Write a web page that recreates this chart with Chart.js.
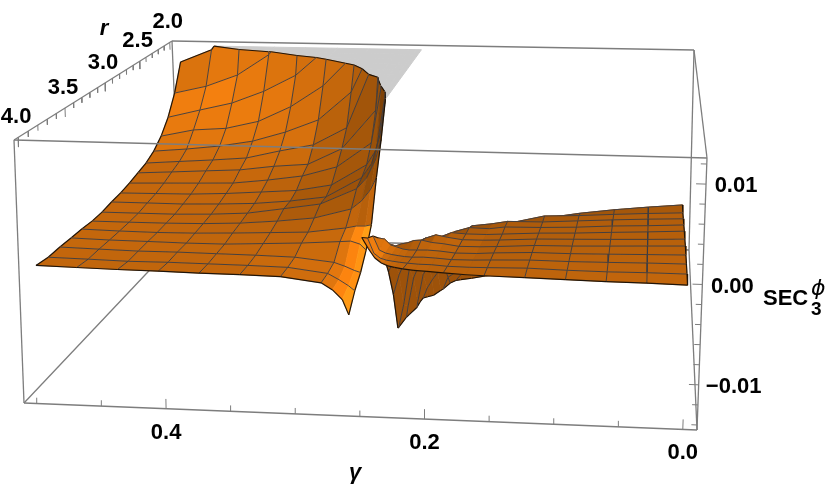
<!DOCTYPE html>
<html>
<head>
  <meta charset="UTF-8">
  <title>SEC surface</title>
  <script src="https://cdn.jsdelivr.net/npm/chart.js"></script>
  <style>
    html, body { margin: 0; background: #fff; }
    canvas { display: block; }
  </style>
</head>
<body>
  <canvas id="chart" width="830" height="495"></canvas>
  <script>
    const rValues = [2, 2.125, 2.25, 2.375, 2.5, 2.625, 2.75, 2.875, 3, 3.125, 3.25, 3.375, 3.5, 3.625, 3.75, 3.875, 4];
    const gammaLeft = [0.5, 0.46875, 0.4375, 0.40625, 0.375, 0.34375, 0.3125, 0.28125, 0.2725, 0.265, 0.26];
    const gammaRight = [0.25, 0.245, 0.24, 0.235, 0.23, 0.225, 0.21875, 0.21, 0.2, 0.1875, 0.17, 0.15625, 0.125, 0.09375, 0.0625, 0.03125, 0];
    const meshGamma = [0.46875, 0.4375, 0.40625, 0.375, 0.34375, 0.3125, 0.28125, 0.25, 0.21875, 0.1875, 0.15625, 0.125, 0.09375, 0.0625, 0.03125];

    // surface heights, one row per r
    const zLeft = [
      [0.00995, 0.0117, 0.0175, 0.03, 0.05, 0.05, 0.05, 0.05, 0.05, 0.05, 0.05],
      [0.0064, 0.0074, 0.009, 0.0118, 0.017, 0.03, 0.05, 0.05, 0.05, 0.05, 0.05],
      [0.0039, 0.00495, 0.00596, 0.0076, 0.0098, 0.0135, 0.03, 0.05, 0.05, 0.05, 0.05],
      [0.0022, 0.0031, 0.0034, 0.0044, 0.0064, 0.0092, 0.0135, 0.03, 0.05, 0.05, 0.05],
      [0.00107, 0.00144, 0.00192, 0.00264, 0.0039, 0.00555, 0.0092, 0.018, 0.03, 0.05, 0.05],
      [0.0004, 0.0007, 0.00099, 0.00134, 0.00233, 0.00319, 0.00544, 0.0155, 0.03, 0.05, 0.05],
      [0.00004, 0.00026, 0.0005, 0.00072, 0.00127, 0.00162, 0.00365, 0.0085, 0.02, 0.03, 0.05],
      [-0.00033, -0.00022, -0.00012, 0, 0.00047, 0.00107, 0.00228, 0.0053, 0.0118, 0.02, 0.05],
      [-0.00061, -0.00057, -0.00052, -0.00034, -0.00005, 0.00024, 0.00101, 0.00353, 0.00537, 0.0115, 0.016],
      [-0.00075, -0.00075, -0.00076, -0.00064, -0.00046, -0.00006, 0.00053, 0.0029, 0.00458, 0.008, 0.0125],
      [-0.00098, -0.00098, -0.00098, -0.00086, -0.00062, 0.00001, 0.00066, 0.00253, 0.00384, 0.0059, 0.0083],
      [-0.00103, -0.00103, -0.00102, -0.00095, -0.00077, -0.00042, 0.00005, 0.00119, 0.00214, 0.00343, 0.0048],
      [-0.00093, -0.00102, -0.00106, -0.00101, -0.00087, -0.0007, -0.00052, 0.00006, 0.00031, 0.00034, 0.0005],
      [-0.00089, -0.00099, -0.00102, -0.00107, -0.00105, -0.00087, -0.00068, -0.0004, -0.00031, -0.00061, -0.00124],
      [-0.00084, -0.00093, -0.00101, -0.00099, -0.00103, -0.00106, -0.00114, -0.00156, -0.00194, -0.00235, -0.00255],
      [-0.00086, -0.00093, -0.00102, -0.00099, -0.00102, -0.00105, -0.00112, -0.00162, -0.00223, -0.00283, -0.00334],
      [-0.00063, -0.00071, -0.00078, -0.00081, -0.00088, -0.0009, -0.00097, -0.00146, -0.00215, -0.0031, -0.00464]
    ];
    const zRight = [
      [-0.03, -0.03, -0.03, -0.03, -0.03, -0.03, -0.03, -0.03, -0.029, -0.026, -0.023, -0.022, -0.0175, -0.016, -0.0145, -0.014, -0.0125],
      [-0.03, -0.03, -0.03, -0.03, -0.03, -0.03, -0.03, -0.03, -0.026, -0.023, -0.02, -0.019, -0.0146, -0.0135, -0.012, -0.0115, -0.0102],
      [-0.03, -0.03, -0.03, -0.03, -0.03, -0.03, -0.03, -0.025, -0.022, -0.02, -0.0175, -0.0165, -0.0125, -0.011, -0.0098, -0.009, -0.008],
      [-0.03, -0.03, -0.03, -0.03, -0.03, -0.028, -0.024, -0.021, -0.018, -0.016, -0.015, -0.0138, -0.0101, -0.0087, -0.0077, -0.007, -0.0062],
      [-0.03, -0.03, -0.03, -0.027, -0.024, -0.02, -0.0152, -0.0138, -0.0131, -0.0122, -0.0108, -0.0096, -0.0078, -0.0066, -0.0058, -0.0052, -0.0046],
      [-0.03, -0.028, -0.025, -0.022, -0.0195, -0.015, -0.013, -0.0122, -0.0112, -0.0095, -0.0075, -0.0068, -0.00587, -0.0048, -0.0042, -0.0038, -0.0033],
      [-0.028, -0.022, -0.015, -0.0133, -0.0122, -0.0113, -0.0105, -0.0095, -0.0085, -0.0068, -0.0056, -0.005, -0.00425, -0.00356, -0.00303, -0.0026, -0.00223],
      [-0.028, -0.018, -0.0138, -0.0105, -0.0094, -0.0087, -0.0079, -0.0071, -0.0062, -0.0048, -0.0042, -0.00397, -0.00301, -0.00285, -0.0026, -0.00238, -0.0022],
      [-0.0175, -0.0132, -0.0098, -0.0082, -0.0072, -0.0066, -0.006, -0.0053, -0.0046, -0.0034, -0.0031, -0.00277, -0.00272, -0.00248, -0.00225, -0.00205, -0.0019],
      [-0.0148, -0.0118, -0.0076, -0.0062, -0.0055, -0.005, -0.0047, -0.0042, -0.0031, -0.0026, -0.00266, -0.00241, -0.00235, -0.0022, -0.00195, -0.0018, -0.0016],
      [-0.0095, -0.0072, -0.0057, -0.005, -0.0045, -0.0041, -0.00336, -0.00276, -0.0022, -0.0023, -0.0023, -0.0022, -0.00197, -0.00185, -0.00165, -0.00148, -0.00128],
      [-0.0058, -0.0042, -0.00327, -0.003, -0.00276, -0.0024, -0.00186, -0.00146, -0.0017, -0.00192, -0.0019, -0.00183, -0.0016, -0.0015, -0.0014, -0.00128, -0.00113],
      [-0.00281, -0.00157, -0.00176, -0.00151, -0.00137, -0.00111, -0.00103, -0.00126, -0.00137, -0.0016, -0.00158, -0.0015, -0.00126, -0.0012, -0.00108, -0.00095, -0.00083],
      [0.00012, 0.00002, -0.0006, -0.0008, -0.001, -0.00108, -0.00106, -0.00103, -0.0011, -0.00126, -0.00124, -0.00112, -0.00095, -0.00095, -0.00088, -0.0008, -0.00072],
      [0.00137, -0.00011, -0.0004, -0.00054, -0.00063, -0.00071, -0.00075, -0.00071, -0.00077, -0.00088, -0.00086, -0.00079, -0.00067, -0.0007, -0.00066, -0.0006, -0.00058],
      [0.0022, 0.00063, 0.00014, -0.00005, -0.00014, -0.00022, -0.00029, -0.00036, -0.00037, -0.00048, -0.00051, -0.00049, -0.00041, -0.0005, -0.00053, -0.00049, -0.0005],
      [0.0033, 0.0022, 0.00125, 0.00076, 0.00049, 0.00036, 0.00023, 0.00012, 0.00006, -0.00004, -0.00016, -0.0002, -0.00026, -0.00033, -0.0004, -0.00042, -0.00049]
    ];

    const rTicks = [4, 3.9, 3.8, 3.7, 3.6, 3.5, 3.4, 3.3, 3.2, 3.1, 3, 2.9, 2.8, 2.7, 2.6, 2.5, 2.4, 2.3, 2.2, 2.1, 2];
    const rLabels = ['4.0', '3.5', '3.0', '2.5', '2.0'];
    const gammaTicks = [0.5, 0.45, 0.4, 0.35, 0.3, 0.25, 0.2, 0.15, 0.1, 0.05, 0];
    const gammaLabels = ['0.4', '0.2', '0.0'];
    const zTicks = [0.012, 0.01, 0.008, 0.006, 0.004, 0.002, 0, -0.002, -0.004, -0.006, -0.008, -0.01, -0.012, -0.014];
    const zLabels = ['0.01', '0.00', '\u22120.01'];

    // box limits and where its corners land on the canvas
    const gBox = [0.51, -0.011], rBox = [4.04, 1.96], zBox = [-0.0145, 0.0126];
    const zTop = 0.0122, zBottom = -0.0145;
    const perspective = 0.736;
    const front = { lt: [14, 140], rt: [707, 158], lb: [24, 403], rb: [697, 430] };
    const back = { lt: [172, 41], rt: [694, 50], lb: [180, 238], rb: [689, 250] };

    function faceAt(f, u, w, k) {
      const top = f.lt[k] + (f.rt[k] - f.lt[k]) * u;
      const bot = f.lb[k] + (f.rb[k] - f.lb[k]) * u;
      return bot + (top - bot) * w;
    }
    function project(p) {
      const u = (gBox[0] - p.g) / (gBox[0] - gBox[1]);
      const v = (rBox[0] - p.r) / (rBox[0] - rBox[1]);
      const w = (p.z - zBox[0]) / (zBox[1] - zBox[0]);
      const t = v / (v + perspective * (1 - v));
      return {
        x: faceAt(front, u, w, 0) + (faceAt(back, u, w, 0) - faceAt(front, u, w, 0)) * t,
        y: faceAt(front, u, w, 1) + (faceAt(back, u, w, 1) - faceAt(front, u, w, 1)) * t
      };
    }

    const list = [];
    function addLine(pts, color, width) {
      list.push({
        data: pts.map(project), showLine: true, fill: false, borderColor: color,
        borderWidth: width, pointRadius: 0, tension: 0
      });
    }
    function addPoly(pts, color, border) {
      const xy = pts.map(project);
      xy.push(xy[0]);
      list.push({
        data: xy, showLine: true, fill: 'shape', backgroundColor: color, borderColor: color,
        borderWidth: border, pointRadius: 0, tension: 0
      });
    }

    const MESH = 'rgba(58,60,68,0.9)', EDGE = 'rgba(22,16,10,0.95)', BOX = 'rgb(125,125,125)';

    function lerp(a, b, t) {
      return { g: a.g + (b.g - a.g) * t, r: a.r + (b.r - a.r) * t, z: a.z + (b.z - a.z) * t };
    }
    // keep the part of a polygon on one side of a z plane, like the plot range does
    function clipPoly(poly, limit, sign) {
      const out = [], cut = [];
      poly.forEach((a, i) => {
        const b = poly[(i + 1) % poly.length];
        const da = sign * (a.z - limit), db = sign * (b.z - limit);
        if (da <= 0) out.push(a);
        if ((da <= 0) !== (db <= 0)) {
          const p = lerp(a, b, da / (da - db));
          out.push(p);
          cut.push(p);
        }
      });
      return { out, cut };
    }
    function clipSeg(a, b) {
      let s = a, e = b;
      if (s.z > e.z) { s = b; e = a; }
      if (e.z < zBottom || s.z > zTop) return null;
      const s2 = s.z < zBottom ? lerp(s, e, (zBottom - s.z) / (e.z - s.z)) : s;
      const e2 = e.z > zTop ? lerp(s, e, (zTop - s.z) / (e.z - s.z)) : e;
      return [s2, e2];
    }
    function addSeg(a, b, color, width) {
      const seg = clipSeg(a, b);
      if (seg) addLine(seg, color, width);
    }

    // slope over a few cells around (i, j) so that the light stays smooth
    function shade(sheet, i, j) {
      const n = sheet.gamma.length;
      const h = (a, b) => Math.max(-0.02, Math.min(0.02, sheet.z[b][a])) * 270 / (zBox[1] - zBox[0]);
      const i1 = Math.max(0, i - 1), i2 = Math.min(n - 1, i + 2);
      const j1 = Math.max(0, j - 1), j2 = Math.min(rValues.length - 1, j + 2);
      const du = (sheet.gamma[i1] - sheet.gamma[i2]) / (gBox[0] - gBox[1]) * 680;
      const dv = (rValues[j2] - rValues[j1]) / (rBox[0] - rBox[1]) * 500;
      const lx = -((h(i2, j) + h(i2, j + 1) - h(i1, j) - h(i1, j + 1)) / 2) / du;
      const ly = ((h(i, j1) + h(i + 1, j1) - h(i, j2) - h(i + 1, j2)) / 2) / dv;
      let f = 1;
      f += lx > 0 ? 0.6 * lx / (1 + lx) : 1.1 * lx / (1.5 - lx);
      f += ly > 0 ? 0.55 * ly * ly / (0.3 + ly * ly) : 0.6 * ly / (1 - ly);
      f = Math.max(sheet.floor, Math.min(1.42, f));
      const red = 196 * f;
      const over = Math.max(0, red - 255);
      return `rgb(${Math.min(255, red).toFixed(0)},${(103 * f + over * 0.5).toFixed(0)},${(12 * f + over * 0.2).toFixed(0)})`;
    }

    function node(sheet, i, j) {
      return { g: sheet.gamma[i], r: rValues[j], z: sheet.z[j][i] };
    }
    function drawBand(sheet, j) {
      const n = sheet.gamma.length;
      for (let i = 0; i < n - 1; i++) {
        const q = [node(sheet, i, j), node(sheet, i + 1, j), node(sheet, i + 1, j + 1), node(sheet, i, j + 1)];
        const above = clipPoly(q, zTop, -1).out;
        if (above.length > 2) addPoly(above.map(p => ({ g: p.g, r: p.r, z: zTop })), 'rgb(204,204,204)', 1);
        const a = clipPoly(q, zTop, 1);
        const b = clipPoly(a.out, zBottom, -1);
        if (b.out.length > 2) addPoly(b.out, shade(sheet, i, j), 0.7);
        if (a.cut.length === 2) addLine(a.cut, EDGE, 1.1);
        if (b.cut.length === 2) addLine(b.cut, EDGE, 1.1);
      }
      for (let i = 0; i < n - 1; i++) {
        addSeg(node(sheet, i, j), node(sheet, i + 1, j), j === 0 ? EDGE : MESH, j === 0 ? 1.2 : 1);
      }
      sheet.gamma.forEach((g, i) => {
        const edge = i === 0 || i === n - 1;
        if (edge || meshGamma.includes(g)) addSeg(node(sheet, i, j), node(sheet, i, j + 1), edge ? EDGE : MESH, edge ? 1.2 : 1);
      });
    }

    const sheets = [
      { gamma: gammaLeft, z: zLeft, floor: 0.3 },
      { gamma: gammaRight, z: zRight, floor: 0.8 }
    ];

    const corner = (g, r, z) => ({ g: gBox[g], r: rBox[r], z: zBox[z] });

    // back edges first, then the surface from far to near, then the front edges
    addLine([corner(0, 1, 1), corner(1, 1, 1)], BOX, 1.3);
    addLine([corner(0, 1, 1), corner(0, 1, 0)], BOX, 1.3);
    addLine([corner(1, 1, 1), corner(1, 1, 0)], BOX, 1.3);
    addLine([corner(1, 0, 0), corner(1, 1, 0)], BOX, 1.3);
    addLine([corner(0, 0, 0), corner(0, 1, 0)], BOX, 1.3);
    addLine([corner(0, 1, 0), corner(1, 1, 0)], BOX, 1.3);

    for (let j = 0; j < rValues.length - 1; j++) {
      sheets.forEach(s => drawBand(s, j));
    }
    sheets.forEach(s => {
      for (let i = 0; i < s.gamma.length - 1; i++) {
        addSeg(node(s, i, rValues.length - 1), node(s, i + 1, rValues.length - 1), EDGE, 1.2);
      }
    });

    addLine([corner(0, 0, 1), corner(1, 0, 1)], BOX, 1.3);
    addLine([corner(0, 0, 1), corner(0, 1, 1)], BOX, 1.3);
    addLine([corner(1, 0, 1), corner(1, 1, 1)], BOX, 1.3);
    addLine([corner(0, 0, 1), corner(0, 0, 0)], BOX, 1.3);
    addLine([corner(1, 0, 1), corner(1, 0, 0)], BOX, 1.3);
    addLine([corner(0, 0, 0), corner(1, 0, 0)], BOX, 1.3);

    rTicks.forEach(r => {
      const major = Number.isInteger(r * 2);
      addLine([{ g: gBox[0], r: r, z: zBox[1] }, { g: gBox[0], r: r, z: zBox[1] - (major ? 0.001 : 0.0006) }], BOX, 1);
    });
    gammaTicks.forEach(g => {
      const major = gammaLabels.includes(g.toFixed(1));
      addLine([{ g: g, r: rBox[0], z: zBox[0] }, { g: g, r: rBox[0], z: zBox[0] + (major ? 0.001 : 0.0006) }], BOX, 1);
    });
    zTicks.forEach(z => {
      const major = Math.abs(z * 100 - Math.round(z * 100)) < 1e-6;
      const g = gBox[1] + (major ? 0.0075 : 0.0045);
      addLine([{ g: gBox[1], r: rBox[0], z: z }, { g: g, r: rBox[0], z: z }], BOX, 1);
    });

    const textPlugin = {
      id: 'boxText',
      afterDraw(chart) {
        const { ctx, scales } = chart;
        const at = (x, y, text, font, align) => {
          ctx.font = font;
          ctx.textAlign = align || 'left';
          ctx.textBaseline = 'middle';
          ctx.fillStyle = '#000';
          ctx.fillText(text, x, y);
        };
        const put = (p, dx, dy, text, font) => {
          const xy = project(p);
          at(scales.x.getPixelForValue(xy.x) + dx, scales.y.getPixelForValue(xy.y) + dy, text, font, 'center');
        };
        const bold = 'bold 22px "Liberation Sans"';
        rLabels.forEach(t => put({ g: gBox[0], r: Number(t), z: zBox[1] }, -2, -20, t, bold));
        gammaLabels.forEach(t => put({ g: Number(t), r: rBox[0], z: zBox[0] }, 0, 24, t, bold));
        zLabels.forEach(t => {
          const val = Number(t.replace('\u2212', '-'));
          put({ g: gBox[1], r: rBox[0], z: val }, t.length > 4 ? 35 : 30, 2, t, bold);
        });
        at(104, 29, 'r', 'italic bold 22px "Liberation Sans"', 'center');
        at(355, 473, '\u03B3', 'italic bold 22px "Liberation Sans"', 'center');
        at(763, 299, 'SEC', bold);
        at(811, 310, '3', 'bold 19px "Liberation Sans"');
        at(811, 289, '\u03D5', 'italic 22px "DejaVu Sans"');
      }
    };

    // the first dataset is painted last in Chart.js, so flip the far to near list
    new Chart(document.getElementById('chart'), {
      type: 'scatter',
      data: { datasets: list.reverse() },
      options: {
        responsive: false,
        animation: false,
        events: [],
        layout: { padding: 0 },
        plugins: { legend: { display: false }, tooltip: { enabled: false } },
        scales: {
          x: { type: 'linear', min: 0, max: 830, display: false },
          y: { type: 'linear', min: 0, max: 495, reverse: true, display: false }
        }
      },
      plugins: [textPlugin]
    });
  </script>
</body>
</html>
